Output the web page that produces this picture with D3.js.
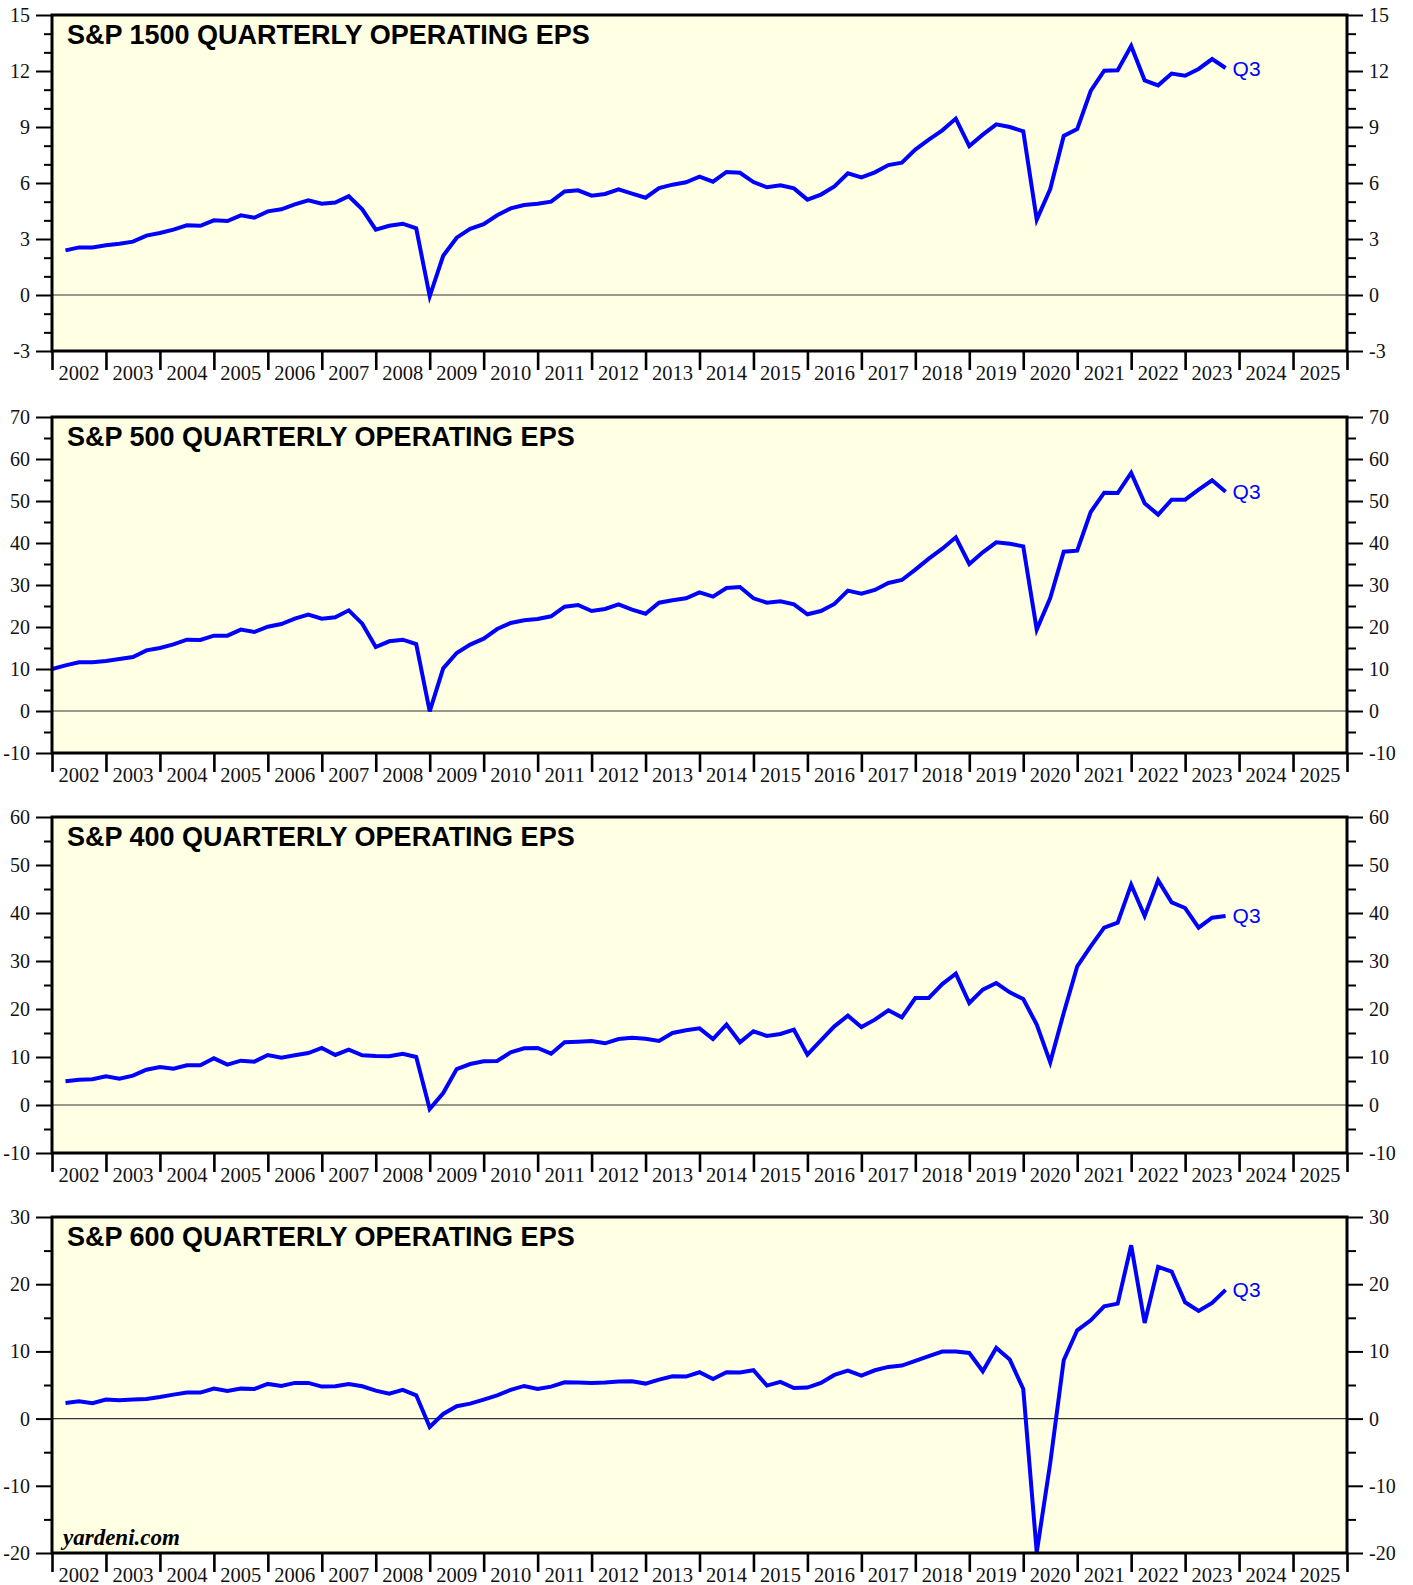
<!DOCTYPE html>
<html>
<head>
<meta charset="utf-8">
<script src="https://cdn.jsdelivr.net/npm/d3@7"></script>
<style>
  body { margin: 0; background: #fff; }
  .tick text { font-family: "Liberation Serif", "Times New Roman", serif; font-size: 20px; fill: #111; }
</style>
</head>
<body>
<div id="chart"></div>
<script>
// quarterly operating EPS, Q1 2002 .. Q3 2023 (S&P 500 also has Q4 2001)
var sp1500 = [2.39, 2.55, 2.55, 2.66, 2.75, 2.86, 3.18, 3.32, 3.5, 3.73,
    3.71, 4.0, 3.96, 4.27, 4.14, 4.48, 4.59, 4.86, 5.07, 4.89,
    4.95, 5.29, 4.59, 3.5, 3.71, 3.82, 3.57, -0.07, 2.1, 3.07,
    3.54, 3.79, 4.27, 4.64, 4.82, 4.89, 5.0, 5.55, 5.61, 5.32,
    5.41, 5.66, 5.43, 5.21, 5.73, 5.91, 6.04, 6.34, 6.07, 6.59,
    6.55, 6.05, 5.77, 5.88, 5.71, 5.11, 5.38, 5.82, 6.52, 6.30,
    6.57, 6.96, 7.09, 7.79, 8.32, 8.82, 9.45, 7.98, 8.59, 9.14,
    9.0, 8.77, 4.04, 5.68, 8.52, 8.89, 10.93, 12.02, 12.04, 13.34,
    11.5, 11.23, 11.86, 11.75, 12.11, 12.64, 12.16];

var sp500 = [10.0,
    10.87, 11.59, 11.59, 11.9, 12.38, 12.86, 14.44, 15.0, 15.87, 16.98,
    16.9, 17.94, 17.94, 19.37, 18.81, 20.08, 20.71, 21.98, 22.94, 21.98,
    22.3, 23.97, 20.79, 15.24, 16.59, 16.98, 15.95, -0.1, 10.16, 13.8,
    15.8, 17.22, 19.52, 20.95, 21.59, 21.9, 22.54, 24.84, 25.24, 23.8,
    24.29, 25.4, 24.13, 23.17, 25.79, 26.35, 26.83, 28.25, 27.22, 29.29,
    29.52, 26.83, 25.79, 26.11, 25.4, 23.02, 23.8, 25.48, 28.65, 27.94,
    28.81, 30.48, 31.19, 33.65, 36.27, 38.65, 41.35, 35.0, 37.78, 40.16,
    39.84, 39.2, 19.37, 26.9, 37.94, 38.17, 47.38, 51.98, 51.9, 56.67,
    49.44, 46.75, 50.32, 50.32, 52.7, 54.92, 52.22];

var sp400 = [4.93, 5.28, 5.35, 5.97, 5.49, 6.11, 7.36, 7.92, 7.57, 8.26,
    8.26, 9.72, 8.4, 9.24, 9.03, 10.42, 9.86, 10.35, 10.83, 11.88,
    10.42, 11.53, 10.35, 10.21, 10.14, 10.69, 10.0, -0.83, 2.5, 7.5,
    8.54, 9.1, 9.17, 10.97, 11.8, 11.88, 10.69, 13.06, 13.19, 13.33,
    12.85, 13.75, 14.03, 13.82, 13.33, 15.0, 15.56, 15.97, 13.75, 16.74,
    13.06, 15.35, 14.38, 14.79, 15.69, 10.49, 13.47, 16.39, 18.61, 16.25,
    17.78, 19.72, 18.26, 22.29, 22.29, 25.2, 27.36, 21.25, 24.03, 25.42,
    23.47, 22.08, 16.74, 8.89, 19.17, 28.89, 33.06, 36.94, 37.99, 45.9,
    39.38, 46.8, 42.22, 41.04, 36.94, 39.03, 39.38];

var sp600 = [2.33, 2.58, 2.28, 2.83, 2.73, 2.83, 2.93, 3.22, 3.57, 3.87,
    3.87, 4.46, 4.12, 4.46, 4.41, 5.16, 4.86, 5.31, 5.31, 4.76,
    4.81, 5.16, 4.81, 4.17, 3.72, 4.27, 3.47, -1.24, 0.69, 1.84,
    2.23, 2.83, 3.47, 4.27, 4.86, 4.41, 4.76, 5.41, 5.36, 5.31,
    5.36, 5.51, 5.56, 5.21, 5.8, 6.3, 6.25, 6.9, 5.9, 6.9,
    6.85, 7.19, 4.91, 5.46, 4.56, 4.61, 5.31, 6.5, 7.14, 6.4,
    7.19, 7.69, 7.89, 8.58, 9.3, 9.97, 9.97, 9.77, 7.04, 10.52,
    8.78, 4.41, -19.9, -6.6, 8.68, 13.14, 14.63, 16.72, 17.11, 25.79,
    14.24, 22.57, 21.88, 17.31, 16.02, 17.21, 19.15];

var titles = ['S&P 1500 QUARTERLY OPERATING EPS', 'S&P 500 QUARTERLY OPERATING EPS',
    'S&P 400 QUARTERLY OPERATING EPS', 'S&P 600 QUARTERLY OPERATING EPS'];
var firstQuarter = [2002.25, 2002.0, 2002.25, 2002.25];
var yDomains = [[-3, 15], [-10, 70], [-10, 60], [-20, 30]];
var majorSteps = [3, 10, 10, 10];
var minorSteps = [1, 5, 5, 5];
var years = d3.range(2002, 2026);
var lastLabel = 'Q3';

var width = 1413, height = 1585;
var left = 52, right = 1347, panelH = 336;
var tops = [15, 417, 817, 1217];

var svg = d3.select('#chart').append('svg')
    .attr('width', width)
    .attr('height', height);

var x = d3.scaleLinear().domain([2002, 2026]).range([left, right]);
var plain = function(d) { return String(d); };  // keep hyphen minus like the original

var series = [sp1500, sp500, sp400, sp600];

series.forEach(function(vals, i) {
    var top = tops[i], bottom = top + panelH;
    var y = d3.scaleLinear().domain(yDomains[i]).range([bottom, top]);
    var pts = vals.map(function(v, k) { return [firstQuarter[i] + k * 0.25, v]; });
    var g = svg.append('g');

    g.append('rect')
        .attr('x', left).attr('y', top)
        .attr('width', right - left).attr('height', panelH)
        .attr('fill', '#ffffe4');

    g.append('line')
        .attr('x1', left).attr('x2', right)
        .attr('y1', y(0)).attr('y2', y(0))
        .attr('stroke', '#333').attr('stroke-width', 1.2);

    svg.append('clipPath').attr('id', 'clip' + i)
        .append('rect')
        .attr('x', left).attr('y', top)
        .attr('width', right - left).attr('height', panelH);

    g.append('path')
        .datum(pts)
        .attr('clip-path', 'url(#clip' + i + ')')
        .attr('fill', 'none')
        .attr('stroke', '#0000ff')
        .attr('stroke-width', 4)
        .attr('d', d3.line().x(function(d) { return x(d[0]); }).y(function(d) { return y(d[1]); }));

    var lo = yDomains[i][0], hi = yDomains[i][1];
    var majors = d3.range(lo, hi + 0.001, majorSteps[i]);
    var minors = d3.range(lo, hi + 0.001, minorSteps[i]).filter(function(v) {
        return majors.indexOf(v) < 0;
    });

    // left axis
    g.append('g').attr('transform', 'translate(' + left + ',0)')
        .call(d3.axisLeft(y).tickValues(minors).tickSize(8).tickFormat(''))
        .call(function(a) { a.select('.domain').remove(); })
        .selectAll('line').attr('stroke-width', 2);
    g.append('g').attr('transform', 'translate(' + left + ',0)')
        .call(d3.axisLeft(y).tickValues(majors).tickSize(16).tickPadding(6).tickFormat(plain))
        .call(function(a) { a.select('.domain').remove(); })
        .selectAll('line').attr('stroke-width', 2);

    // right axis
    g.append('g').attr('transform', 'translate(' + right + ',0)')
        .call(d3.axisRight(y).tickValues(minors).tickSize(9).tickFormat(''))
        .call(function(a) { a.select('.domain').remove(); })
        .selectAll('line').attr('stroke-width', 2);
    g.append('g').attr('transform', 'translate(' + right + ',0)')
        .call(d3.axisRight(y).tickValues(majors).tickSize(16).tickPadding(6).tickFormat(plain))
        .call(function(a) { a.select('.domain').remove(); })
        .selectAll('line').attr('stroke-width', 2);

    // year ticks
    g.append('g').attr('transform', 'translate(0,' + bottom + ')')
        .call(d3.axisBottom(x).tickValues(d3.range(2002, 2027)).tickSize(19).tickFormat(''))
        .call(function(a) { a.select('.domain').remove(); })
        .selectAll('line').attr('stroke-width', 2.6);

    g.selectAll('.yr')
        .data(years)
        .enter().append('text')
        .attr('x', function(d) { return x(d + 0.5); })
        .attr('y', bottom + 29)
        .attr('text-anchor', 'middle')
        .style('font-family', '"Liberation Serif", "Times New Roman", serif')
        .style('font-size', '20.5px')
        .attr('fill', '#111')
        .text(function(d) { return d; });

    g.append('rect')
        .attr('x', left).attr('y', top)
        .attr('width', right - left).attr('height', panelH)
        .attr('fill', 'none')
        .attr('stroke', '#000').attr('stroke-width', 3);

    g.append('text')
        .attr('x', 67).attr('y', top + 29)
        .style('font-family', '"Liberation Sans", Arial, sans-serif')
        .style('font-weight', 'bold')
        .style('font-size', '27px')
        .attr('fill', '#000')
        .text(titles[i]);

    var last = pts[pts.length - 1];
    g.append('text')
        .attr('x', x(last[0]) + 7).attr('y', y(last[1]) + 7.5)
        .style('font-family', '"Liberation Sans", Arial, sans-serif')
        .style('font-size', '21px')
        .attr('fill', '#0000ff')
        .text(lastLabel);

    if (i == 3) {
        g.append('text')
            .attr('x', 63).attr('y', bottom - 8)
            .style('font-family', '"Liberation Serif", "Times New Roman", serif')
            .style('font-weight', 'bold')
            .style('font-style', 'italic')
            .style('font-size', '23px')
            .attr('fill', '#000')
            .text('yardeni.com');
    }
});
</script>
</body>
</html>
